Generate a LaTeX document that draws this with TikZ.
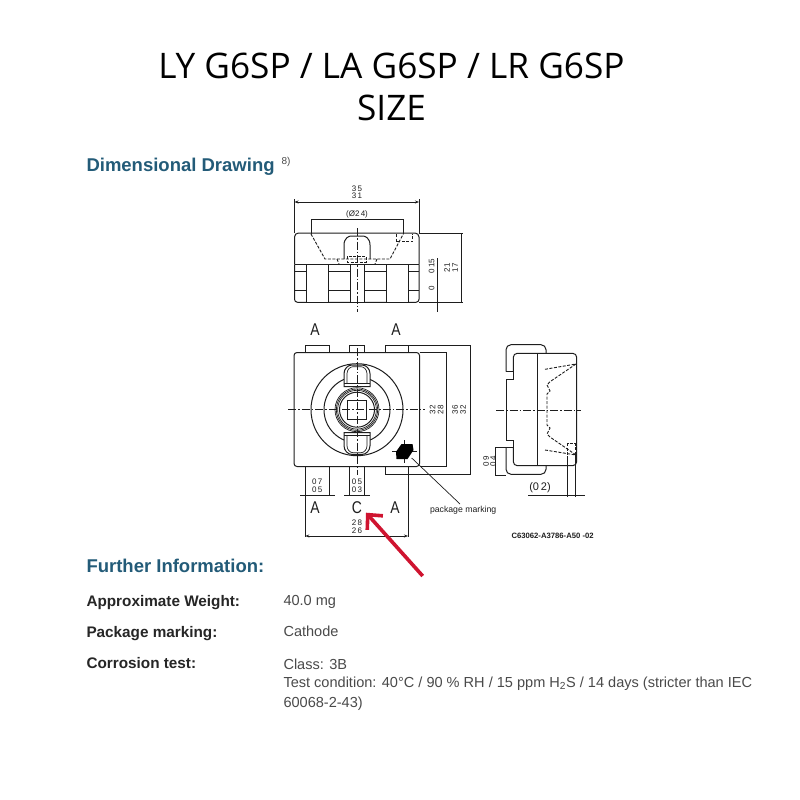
\documentclass[tikz,border=0pt]{standalone}
\usepackage{fontspec}
\setmainfont{Liberation Sans}
\newfontfamily\titlefont{Open Sans}
\newfontfamily\pinfont[FakeStretch=0.82]{Liberation Sans}
\usetikzlibrary{arrows.meta}
\definecolor{headblue}{HTML}{235B78}
\definecolor{valgray}{HTML}{4A4A4A}
\definecolor{inkgray}{HTML}{1E1E1E}
\definecolor{markred}{HTML}{CF1430}

\begin{document}
\begin{tikzpicture}[x=1pt,y=-1pt,
  line width=1pt, draw=inkgray,
  every node/.style={inner sep=0pt, text=inkgray},
  thin line/.style={line width=0.7pt},
  hidden/.style={line width=0.9pt, dash pattern=on 3pt off 1.5pt},
  axis line/.style={line width=0.8pt, dash pattern=on 8pt off 2pt on 1.5pt off 2pt},
  headline/.style={font=\titlefont\fontsize{35.2}{35.2}\selectfont, text=black},
  section/.style={anchor=base west, font=\bfseries\fontsize{18.5}{18.5}\selectfont, text=headblue},
  item/.style={anchor=base west, font=\bfseries\fontsize{15.3}{15.3}\selectfont, text=black!85},
  value/.style={anchor=base west, font=\fontsize{14.55}{14.55}\selectfont, text=valgray},
  dim/.style={font=\fontsize{8}{8}\selectfont},
  pin/.style={font=\pinfont\fontsize{17}{17}\selectfont}]

\fill[white] (0,0) rectangle (800,800);
\useasboundingbox (0,0) rectangle (800,800);

% Titolo
\node[headline] (title1) at (391.5,66) {LY G6SP / LA G6SP / LR G6SP};
\node[headline] (title2) at (391.5,108) {SIZE};
\node[section] (drawing) at (86,171.5) {Dimensional Drawing};
\node[anchor=west, font=\fontsize{10}{10}\selectfont, text=valgray] (note) at (281,162) {8)};

% Vista dall'alto
\draw[rounded corners=4pt] (294.5,264.3) -- (294.5,233) -- (419,233) -- (419,264.3);
\draw[rounded corners=3pt] (294.5,264.3) -- (294.5,302.3) -- (419,302.3) -- (419,264.3);
\draw (294.5,264.3) -- (419,264.3);
\draw (294.5,271.7) -- (419,271.7);
\draw (294.5,290.7) -- (419,290.7);
\foreach \xa/\xb in {306/328.3,350/364.3,386/408.3}
  \draw[fill=white] (\xa,264.3) rectangle (\xb,302.3);
\draw[hidden] (311,234) -- (325,259) -- (390,259) -- (403.3,234);
\draw[hidden] (396,234) -- (396,241.7) -- (412.7,241.7) -- (412.7,234);
\draw[hidden] (347.5,256) rectangle (366,262);
\draw[hidden] (337,259) -- (339,264);
\draw[hidden] (377,259) -- (375,264);
\draw (344,259) -- (344,245) .. controls (344,238) and (349,236) .. (351,236)
  -- (363,236) .. controls (365,236) and (370,238) .. (370,245) -- (370,259);
\draw[axis line] (357,228) -- (357,312);
% Quote vista dall'alto
\draw[thin line] (294.5,233) -- (294.5,199);
\draw[thin line] (419,233) -- (419,199);
\draw[thin line, {Stealth[length=4pt]}-{Stealth[length=4pt]}] (294.5,202) -- (419,202);
\draw[thin line] (311,234) -- (311,219) -- (403.3,219) -- (403.3,234);
\draw[thin line] (419,233) -- (463,233);
\draw[thin line] (419,302.3) -- (462.7,302.3);
\draw (419,302.3) -- (440,302.3);
\draw[thin line] (461.7,233) -- (461.7,302.3);
\draw[thin line] (437.7,258) -- (437.7,312);
\node[dim] (wa) at (357,188.3) {3\,5};
\node[dim] (wb) at (357,195.7) {3\,1};
\node[dim] (lens) at (357,214) {(Ø2\,4)};
\node[dim, rotate=90] (hc) at (431.7,266) {0\,15};
\node[dim, rotate=90] (hd) at (431.7,288) {0};
\node[dim, rotate=90] (ha) at (447,267.7) {2\,1};
\node[dim, rotate=90] (hb) at (455,267.7) {1\,7};

% Vista frontale
\node[pin] (pina) at (315,330) {A};
\node[pin] (pinb) at (396,330) {A};
\foreach \xa/\xb in {305.5/329,349/364.7,385/408}
  \draw (\xa,352.5) -- (\xa,345) -- (\xb,345) -- (\xb,352.5);
\draw (305.5,466.5) -- (305.5,495);
\draw (329,466.5) -- (329,495);
\draw (349,466.5) -- (349,495);
\draw (364.7,466.5) -- (364.7,495);
\draw (385,466.5) -- (385,474.7) -- (408,474.7) -- (408,466.5);
\draw[fill=white, rounded corners=3pt] (294,352.5) rectangle (419.5,466.5);
\draw (357,409.7) circle[radius=46pt];
\draw (357,409.7) circle[radius=33pt];
\draw[line width=0.7pt] (357,409.7) circle[radius=22pt];
\draw[line width=0.7pt] (357,409.7) circle[radius=20.7pt];
\draw[line width=0.7pt] (357,409.7) circle[radius=19.4pt];
\draw[line width=1pt] (357,409.7) circle[radius=17.5pt];
\draw[thin line] (347.5,400.2) rectangle (366.5,419.2);
\foreach \flip in {1,-1}{
  \begin{scope}[shift={(357,409.7)}, yscale=\flip]
    \draw[fill=white] (-13,-23) -- (-13,-36) .. controls (-13,-41) and (-9,-44.7) .. (-5,-44.7)
      -- (5,-44.7) .. controls (9,-44.7) and (13,-41) .. (13,-36) -- (13,-23) -- cycle;
    \draw[line width=1.2pt] (-13,-26) -- (13,-26);
    \draw[thin line] (-10,-26) -- (-10,-36) .. controls (-10,-40) and (-7,-43) .. (-4,-43)
      -- (4,-43) .. controls (7,-43) and (10,-40) .. (10,-36) -- (10,-26);
  \end{scope}
}
\draw[axis line] (288,409.7) -- (425,409.7);
\draw[axis line] (357,348) -- (357,475);
\draw[thin line] (404,440) -- (404,463);
\draw[thin line] (392,451.7) -- (417,451.7);
\fill[black] (401.5,444) -- (412.5,444) -- (413.5,450) -- (407.5,459) -- (396.5,459) -- (396,451.7) -- cycle;
% Quote vista frontale
\draw[thin line] (408,345) -- (470.7,345) -- (470.7,474.7) -- (408,474.7);
\draw[thin line] (419.5,352.5) -- (446.7,352.5) -- (446.7,466.5) -- (419.5,466.5);
\draw[thin line] (305.3,466.5) -- (305.3,537);
\draw[thin line] (408,474.7) -- (408,537);
\draw[thin line, {Stealth[length=4pt]}-{Stealth[length=4pt]}] (305.3,536) -- (408,536);
\draw[thin line] (300,495) -- (335,495);
\draw[thin line] (344,495) -- (370,495);
\node[dim, rotate=90] (ba) at (432.7,409.7) {3\,2};
\node[dim, rotate=90] (bb) at (440.7,409.7) {2\,8};
\node[dim, rotate=90] (bc) at (455,409.7) {3\,6};
\node[dim, rotate=90] (bd) at (463,409.7) {3\,2};
\node[dim] (la) at (317.3,481.7) {0\,7};
\node[dim] (lb) at (317.3,489.3) {0\,5};
\node[dim] (lc) at (357,481.7) {0\,5};
\node[dim] (ld) at (357,489.3) {0\,3};
\node[dim] (le) at (357,522.3) {2\,8};
\node[dim] (lf) at (357,530.3) {2\,6};
\node[pin] (pinc) at (315,507.7) {A};
\node[pin] (pind) at (357,507.7) {C};
\node[pin] (pine) at (395,507.7) {A};
\node[anchor=west, font=\fontsize{8.7}{8.7}\selectfont] (marking) at (429.5,510) {package marking};
\node[anchor=west, font=\bfseries\fontsize{7.7}{7.7}\selectfont] (code) at (511,536) {C63062-A3786-A50 -02};
\coordinate (blob) at (411.7,458);
\draw[thin line] (blob) -- (460,504);

% Vista laterale
\draw[rounded corners=5pt] (546,353) -- (546,344.7) -- (506,344.7) -- (506,371.7);
\draw (506,371.7) -- (513.3,371.7) -- (513.3,379.3) -- (506.7,379.3) -- (506.7,440)
  -- (513.3,440) -- (513.3,447.3) -- (506,447.3);
\draw[rounded corners=5pt] (506,447.3) -- (506,474.3) -- (546,474.3) -- (546,466);
\draw[rounded corners=4pt] (513.3,371.7) -- (513.3,353.3) -- (576.7,353.3) -- (576.7,465.7) -- (513.3,465.7) -- (513.3,447.3);
\draw (537.7,353.3) -- (537.7,465.7);
\draw[hidden] (545,369.3) -- (576,364) -- (550,381.7) -- (547,385);
\draw[hidden] (545,450) -- (576,455) -- (550,437) -- (547,434);
\draw[hidden] (547,385) -- (550,391) -- (547,394) -- (547,425) -- (550,428) -- (547,434);
\draw[hidden] (567.5,455) -- (567.5,443.5) -- (575,443.5) -- (575,465);
\draw[axis line] (496,410) -- (580.7,410);
% Quote vista laterale
\draw[thin line] (495.3,447.3) -- (506,447.3);
\draw[thin line] (495.3,475) -- (506,475);
\draw[thin line] (495.3,447.3) -- (495.3,475);
\node[dim, rotate=90] (sa) at (486,461.5) {0\,9};
\node[dim, rotate=90] (sb) at (493,461.5) {0\,4};
\draw[thin line] (567.3,456) -- (567.3,497);
\draw[thin line] (575,455) -- (575,497);
\draw[thin line] (528,495.7) -- (585,495.7);
\node[font=\fontsize{11}{11}\selectfont] (gap) at (540,488) {(0\,2)};

% Freccia rossa
\coordinate (arrowstart) at (422.7,576);
\coordinate (arrowend) at (366,512.7);
\draw[markred, line width=3.6pt, -{Straight Barb[length=11pt,width=21pt,line width=3.6pt]}] (arrowstart) -- (arrowend);

% Testo in basso
\node[section] (further) at (86,572.7) {Further Information:};
\node[item] (itema) at (86,606) {Approximate Weight:};
\node[item] (itemb) at (86,637.3) {Package marking:};
\node[item] (itemc) at (86,668.3) {Corrosion test:};
\node[value] (vala) at (283,605.7) {40.0 mg};
\node[value] (valb) at (283,636.7) {Cathode};
\node[value] (valc) at (283,669) {Class: 3B};
\node[value] (vald) at (283,687.3) {Test condition: 40°C / 90 \% RH / 15 ppm H\textsubscript{2}S / 14 days (stricter than IEC};
\node[value] (vale) at (283,707.3) {60068-2-43)};

\end{tikzpicture}
\end{document}
